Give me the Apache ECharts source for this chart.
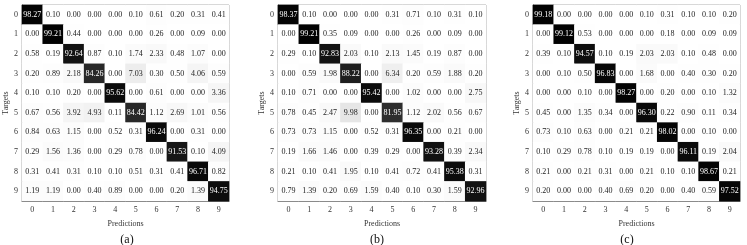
<!DOCTYPE html>
<html><head><meta charset="utf-8">
<script src="https://cdn.jsdelivr.net/npm/echarts@6/dist/echarts.min.js"></script>
<style>html,body{margin:0;padding:0;background:#fff}#c{width:747px;height:245px}</style>
</head><body><div id="c"></div>
<script>
const labels = ['0','1','2','3','4','5','6','7','8','9'];
const captions = ['(a)','(b)','(c)'];
const xName = 'Predictions';
const yName = 'Targets';

const matA = [
  [98.27,0.10,0.00,0.00,0.00,0.10,0.61,0.20,0.31,0.41],
  [0.00,99.21,0.44,0.00,0.00,0.00,0.26,0.00,0.09,0.00],
  [0.58,0.19,92.64,0.87,0.10,1.74,2.33,0.48,1.07,0.00],
  [0.20,0.89,2.18,84.26,0.00,7.03,0.30,0.50,4.06,0.59],
  [0.10,0.10,0.20,0.00,95.62,0.00,0.61,0.00,0.00,3.36],
  [0.67,0.56,3.92,4.93,0.11,84.42,1.12,2.69,1.01,0.56],
  [0.84,0.63,1.15,0.00,0.52,0.31,96.24,0.00,0.31,0.00],
  [0.29,1.56,1.36,0.00,0.29,0.78,0.00,91.53,0.10,4.09],
  [0.31,0.41,0.31,0.10,0.10,0.51,0.31,0.41,96.71,0.82],
  [1.19,1.19,0.00,0.40,0.89,0.00,0.00,0.20,1.39,94.75]
];
const matB = [
  [98.37,0.10,0.00,0.00,0.00,0.31,0.71,0.10,0.31,0.10],
  [0.00,99.21,0.35,0.09,0.00,0.00,0.26,0.00,0.09,0.00],
  [0.29,0.10,92.83,2.03,0.10,2.13,1.45,0.19,0.87,0.00],
  [0.00,0.59,1.98,88.22,0.00,6.34,0.20,0.59,1.88,0.20],
  [0.10,0.71,0.00,0.00,95.42,0.00,1.02,0.00,0.00,2.75],
  [0.78,0.45,2.47,9.98,0.00,81.95,1.12,2.02,0.56,0.67],
  [0.73,0.73,1.15,0.00,0.52,0.31,96.35,0.00,0.21,0.00],
  [0.19,1.66,1.46,0.00,0.39,0.29,0.00,93.28,0.39,2.34],
  [0.21,0.10,0.41,1.95,0.10,0.41,0.72,0.41,95.38,0.31],
  [0.79,1.39,0.20,0.69,1.59,0.40,0.10,0.30,1.59,92.96]
];
const matC = [
  [99.18,0.00,0.00,0.00,0.00,0.10,0.31,0.10,0.10,0.20],
  [0.00,99.12,0.53,0.00,0.00,0.00,0.18,0.00,0.09,0.09],
  [0.39,0.10,94.57,0.10,0.19,2.03,2.03,0.10,0.48,0.00],
  [0.00,0.10,0.50,96.83,0.00,1.68,0.00,0.40,0.30,0.20],
  [0.00,0.00,0.10,0.00,98.27,0.00,0.20,0.00,0.10,1.32],
  [0.45,0.00,1.35,0.34,0.00,96.30,0.22,0.90,0.11,0.34],
  [0.73,0.10,0.63,0.00,0.21,0.21,98.02,0.00,0.10,0.00],
  [0.10,0.29,0.78,0.10,0.19,0.19,0.00,96.11,0.19,2.04],
  [0.21,0.00,0.21,0.31,0.00,0.21,0.10,0.10,98.67,0.21],
  [0.20,0.00,0.00,0.40,0.69,0.20,0.00,0.40,0.59,97.52]
];
const mats = [matA, matB, matC];

const FONT = '"Liberation Serif","DejaVu Serif",serif';
const grids = [
  {left: 22, top: 5, width: 207, height: 196},
  {left: 278, top: 5, width: 208, height: 196},
  {left: 533, top: 5, width: 207, height: 196}
];
const captionX = [122, 372, 622];

function toData(m) {
  const out = [];
  m.forEach((row, i) => row.forEach((v, j) => out.push([j, i, v])));
  return out;
}

const option = {
  animation: false,
  backgroundColor: '#fff',
  title: captions.map((t, k) => ({
    text: t, left: captionX[k], top: 229, textAlign: 'center',
    textStyle: {fontFamily: FONT, fontSize: 12, fontWeight: 'normal', color: '#111'}
  })),
  grid: grids.map(g => Object.assign({show: true, borderColor: '#999', borderWidth: 1, backgroundColor: 'transparent'}, g)),
  xAxis: grids.map((g, k) => ({
    type: 'category', gridIndex: k, data: labels, position: 'bottom',
    name: xName, nameLocation: 'middle', nameGap: 19,
    nameTextStyle: {fontFamily: FONT, fontSize: 8, color: '#333'},
    axisLine: {show: true, lineStyle: {color: '#666', width: 1}},
    axisTick: {show: false},
    axisLabel: {fontFamily: FONT, fontSize: 8, color: '#333', margin: 5},
    splitLine: {show: false}
  })),
  yAxis: grids.map((g, k) => ({
    type: 'category', gridIndex: k, data: labels, inverse: true,
    name: yName, nameLocation: 'middle', nameGap: 12, nameRotate: 90,
    nameTextStyle: {fontFamily: FONT, fontSize: 8, color: '#333'},
    axisLine: {show: true, lineStyle: {color: '#666', width: 1}},
    axisTick: {show: false},
    axisLabel: {fontFamily: FONT, fontSize: 8, color: '#333', margin: 4},
    splitLine: {show: false}
  })),
  visualMap: {
    type: 'continuous', show: false, min: 0, max: 100, dimension: 2,
    seriesIndex: [0, 1, 2],
    inRange: {color: ['#ffffff', '#000000']}
  },
  series: mats.map((m, k) => ({
    type: 'heatmap', xAxisIndex: k, yAxisIndex: k, data: toData(m),
    itemStyle: {borderWidth: 0},
    emphasis: {disabled: true},
    label: {
      show: true,
      formatter: p => {
        const v = p.value[2];
        return (v > 50 ? '{w|' : '{k|') + v.toFixed(2) + '}';
      },
      rich: {
        w: {color: '#ffffff', fontFamily: FONT, fontSize: 8},
        k: {color: '#222222', fontFamily: FONT, fontSize: 8}
      }
    }
  }))
};

const chart = echarts.init(document.getElementById('c'), null, {renderer: 'canvas'});
chart.setOption(option);
</script></body></html>
